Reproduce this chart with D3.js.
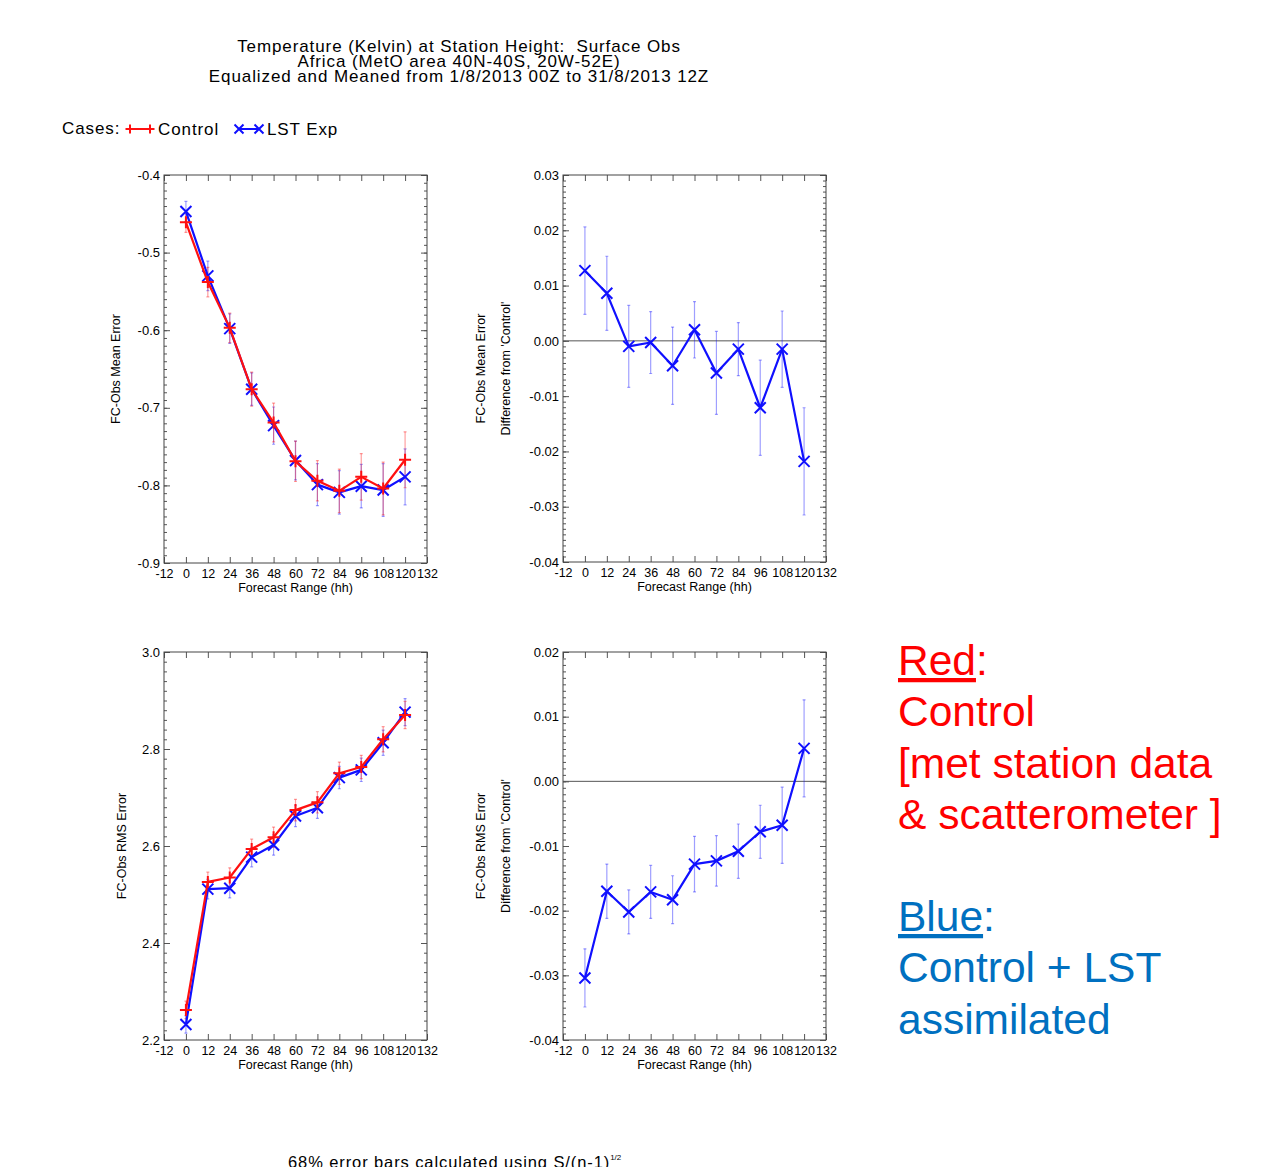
<!DOCTYPE html>
<html>
<head>
<meta charset="utf-8">
<script src="https://cdn.jsdelivr.net/npm/d3@7"></script>
<style>
  body { margin: 0; background: #fff; }
  svg { display: block; font-family: "Liberation Sans", Arial, Helvetica, sans-serif; }
  .frame { fill: none; stroke: #444; stroke-width: 1; }
  .tick line { stroke: #555; }
</style>
</head>
<body>
<svg id="chart" width="1275" height="1167"></svg>
<script>
// forecast lead times (hh)
var hours = [0, 12, 24, 36, 48, 60, 72, 84, 96, 108, 120];
var xTicks = [-12, 0, 12, 24, 36, 48, 60, 72, 84, 96, 108, 120, 132];

// mean error
var meanCtl = [-0.461, -0.538, -0.597, -0.676, -0.719, -0.769, -0.794, -0.807, -0.789, -0.804, -0.767];
var meanLst = [-0.447, -0.530, -0.598, -0.676, -0.723, -0.768, -0.799, -0.809, -0.801, -0.806, -0.789];
var meanCtlErr = [0.013, 0.019, 0.019, 0.022, 0.025, 0.026, 0.026, 0.028, 0.030, 0.034, 0.036];
var meanLstErr = [0.013, 0.019, 0.019, 0.021, 0.024, 0.025, 0.027, 0.028, 0.028, 0.034, 0.036];

// rms error
var rmsCtl = [2.262, 2.526, 2.535, 2.594, 2.618, 2.674, 2.690, 2.750, 2.763, 2.820, 2.870];
var rmsLst = [2.232, 2.511, 2.513, 2.577, 2.602, 2.662, 2.679, 2.741, 2.757, 2.813, 2.876];
var rmsCtlErr = [0.018, 0.020, 0.020, 0.020, 0.021, 0.022, 0.022, 0.023, 0.024, 0.026, 0.028];
var rmsLstErr = [0.018, 0.020, 0.020, 0.020, 0.021, 0.022, 0.022, 0.023, 0.024, 0.026, 0.028];

// LST Exp minus Control
var meanDiff = [0.0127, 0.0086, -0.0010, -0.0003, -0.0045, 0.0020, -0.0058, -0.0015, -0.0121, -0.0015, -0.0218];
var meanDiffErr = [0.0079, 0.0067, 0.0074, 0.0056, 0.0070, 0.0051, 0.0075, 0.0048, 0.0086, 0.0069, 0.0097];
var rmsDiff = [-0.0304, -0.0170, -0.0202, -0.0171, -0.0183, -0.0128, -0.0123, -0.0108, -0.0078, -0.0068, 0.0051];
var rmsDiffErr = [0.0045, 0.0042, 0.0034, 0.0041, 0.0037, 0.0043, 0.0039, 0.0042, 0.0041, 0.0059, 0.0075];

// y tick labels per panel
var meanTicks = [-0.9, -0.8, -0.7, -0.6, -0.5, -0.4];
var meanDiffTicks = [-0.04, -0.03, -0.02, -0.01, 0.00, 0.01, 0.02, 0.03];
var rmsTicks = [2.2, 2.4, 2.6, 2.8, 3.0];
var rmsDiffTicks = [-0.04, -0.03, -0.02, -0.01, 0.00, 0.01, 0.02];

var RED = "#ff1010", BLUE = "#1010ff";

var svg = d3.select("#chart");
svg.append("rect").attr("width", 1275).attr("height", 1167).attr("fill", "#fff");

function plusPath(s) { return "M" + (-s) + ",0H" + s + "M0," + (-s) + "V" + s; }
function crossPath(s) { return "M" + (-s) + "," + (-s) + "L" + s + "," + s + "M" + (-s) + "," + s + "L" + s + "," + (-s); }

// plain hyphen instead of the unicode minus d3 uses
function fmt(spec) {
    var f = d3.format(spec);
    return function (d) { return f(d).replace("\u2212", "-"); };
}

function drawPanel(p) {
    var width = p.right - p.left;
    var height = p.bottom - p.top;
    var g = svg.append("g").attr("transform", "translate(" + p.left + "," + p.top + ")");

    var x = d3.scaleLinear().domain([-12, 132]).range([0, width]);
    var y = d3.scaleLinear().domain(p.yDomain).range([height, 0]);

    var minor = d3.range(p.yDomain[0], p.yDomain[1] + p.minorStep / 2, p.minorStep);

    // minor y ticks, both sides
    g.append("g").call(d3.axisLeft(y).tickValues(minor).tickSize(-3).tickFormat(""))
        .call(function (a) { a.select(".domain").remove(); });
    g.append("g").attr("transform", "translate(" + width + ",0)")
        .call(d3.axisRight(y).tickValues(minor).tickSize(-3).tickFormat(""))
        .call(function (a) { a.select(".domain").remove(); });

    // major y ticks
    g.append("g")
        .call(d3.axisLeft(y).tickValues(p.yTicks).tickSize(-6).tickPadding(4).tickFormat(fmt(p.yFormat)))
        .call(function (a) {
            a.select(".domain").remove();
            a.selectAll("text").attr("fill", "#000").style("font-size", "13px");
        });
    g.append("g").attr("transform", "translate(" + width + ",0)")
        .call(d3.axisRight(y).tickValues(p.yTicks).tickSize(-6).tickFormat(""))
        .call(function (a) { a.select(".domain").remove(); });

    // x ticks
    g.append("g").attr("transform", "translate(0," + height + ")")
        .call(d3.axisBottom(x).tickValues(xTicks).tickSize(-6).tickPadding(6).tickFormat(fmt("d")))
        .call(function (a) {
            a.select(".domain").remove();
            a.selectAll("text").attr("fill", "#000").style("font-size", "12.5px");
        });
    g.append("g")
        .call(d3.axisTop(x).tickValues(xTicks).tickSize(-6).tickFormat(""))
        .call(function (a) { a.select(".domain").remove(); });

    g.append("rect").attr("class", "frame").attr("width", width).attr("height", height);

    if (p.zeroLine) {
        g.append("line")
            .attr("x1", 0).attr("x2", width)
            .attr("y1", y(0)).attr("y2", y(0))
            .attr("stroke", "#555").attr("stroke-width", 1);
    }

    // titles
    g.append("text")
        .attr("x", width / 2).attr("y", height + 29)
        .attr("text-anchor", "middle").style("font-size", "12.5px")
        .text("Forecast Range (hh)");
    p.yTitles.forEach(function (t) {
        g.append("text")
            .attr("transform", "translate(" + (t.x - p.left) + "," + (height / 2) + ") rotate(-90)")
            .attr("text-anchor", "middle").attr("dominant-baseline", "middle")
            .style("font-size", "12.5px")
            .text(t.text);
    });

    // error bars first, then lines and markers
    p.series.forEach(function (s) {
        var pts = hours.map(function (h, i) { return { h: h, v: s.values[i], e: s.errs[i] }; });
        var bars = g.append("g").attr("stroke", s.color).attr("stroke-opacity", 0.4).attr("stroke-width", 1.2);
        bars.selectAll("line.bar").data(pts).enter().append("line")
            .attr("x1", function (d) { return x(d.h); })
            .attr("x2", function (d) { return x(d.h); })
            .attr("y1", function (d) { return y(d.v - d.e); })
            .attr("y2", function (d) { return y(d.v + d.e); });
        bars.selectAll("path.cap").data(pts).enter().append("path")
            .attr("d", function (d) {
                return "M" + (x(d.h) - 1.5) + "," + y(d.v - d.e) + "h3" +
                    "M" + (x(d.h) - 1.5) + "," + y(d.v + d.e) + "h3";
            });
    });
    p.series.forEach(function (s) {
        var pts = hours.map(function (h, i) { return { h: h, v: s.values[i] }; });
        var line = d3.line().x(function (d) { return x(d.h); }).y(function (d) { return y(d.v); });
        g.append("path").datum(pts)
            .attr("fill", "none").attr("stroke", s.color).attr("stroke-width", 2.2)
            .attr("stroke-linejoin", "round")
            .attr("d", line);
        g.selectAll(null).data(pts).enter().append("path")
            .attr("transform", function (d) { return "translate(" + x(d.h) + "," + y(d.v) + ")"; })
            .attr("d", s.marker === "plus" ? plusPath(6) : crossPath(5.5))
            .attr("stroke", s.color).attr("stroke-width", 2).attr("fill", "none");
    });
}

// header
var title = [
    "Temperature (Kelvin) at Station Height:  Surface Obs",
    "Africa (MetO area 40N-40S, 20W-52E)",
    "Equalized and Meaned from 1/8/2013 00Z to 31/8/2013 12Z"
];
svg.append("g").selectAll("text").data(title).enter().append("text")
    .attr("x", 459).attr("y", function (d, i) { return 52 + i * 15; })
    .attr("text-anchor", "middle").style("font-size", "17px").style("letter-spacing", "0.9px")
    .style("white-space", "pre").attr("xml:space", "preserve")
    .text(function (d) { return d; });

// legend
var lg = svg.append("g").style("font-size", "17px").style("letter-spacing", "0.9px");
lg.append("text").attr("x", 62).attr("y", 134).text("Cases:");
lg.append("line").attr("x1", 128).attr("x2", 152).attr("y1", 129).attr("y2", 129).attr("stroke", RED).attr("stroke-width", 2);
lg.append("path").attr("transform", "translate(130,129)").attr("d", plusPath(4.5)).attr("stroke", RED).attr("stroke-width", 2);
lg.append("path").attr("transform", "translate(150,129)").attr("d", plusPath(4.5)).attr("stroke", RED).attr("stroke-width", 2);
lg.append("text").attr("x", 158).attr("y", 135).text("Control");
lg.append("line").attr("x1", 238).attr("x2", 260).attr("y1", 129).attr("y2", 129).attr("stroke", BLUE).attr("stroke-width", 2);
lg.append("path").attr("transform", "translate(239,129)").attr("d", crossPath(4.5)).attr("stroke", BLUE).attr("stroke-width", 2);
lg.append("path").attr("transform", "translate(259,129)").attr("d", crossPath(4.5)).attr("stroke", BLUE).attr("stroke-width", 2);
lg.append("text").attr("x", 267).attr("y", 135).text("LST Exp");

drawPanel({
    left: 164, right: 427, top: 175, bottom: 563,
    yDomain: [-0.9, -0.4], yTicks: meanTicks, yFormat: ".1f", minorStep: 0.01,
    yTitles: [{ x: 117, text: "FC-Obs Mean Error" }],
    series: [
        { values: meanLst, errs: meanLstErr, color: BLUE, marker: "cross" },
        { values: meanCtl, errs: meanCtlErr, color: RED, marker: "plus" }
    ]
});
drawPanel({
    left: 563, right: 826, top: 175, bottom: 562,
    yDomain: [-0.04, 0.03], yTicks: meanDiffTicks, yFormat: ".2f", minorStep: 0.001, zeroLine: true,
    yTitles: [{ x: 482, text: "FC-Obs Mean Error" }, { x: 507, text: "Difference from 'Control'" }],
    series: [{ values: meanDiff, errs: meanDiffErr, color: BLUE, marker: "cross" }]
});
drawPanel({
    left: 164, right: 427, top: 652, bottom: 1040,
    yDomain: [2.2, 3.0], yTicks: rmsTicks, yFormat: ".1f", minorStep: 0.02,
    yTitles: [{ x: 123, text: "FC-Obs RMS Error" }],
    series: [
        { values: rmsLst, errs: rmsLstErr, color: BLUE, marker: "cross" },
        { values: rmsCtl, errs: rmsCtlErr, color: RED, marker: "plus" }
    ]
});
drawPanel({
    left: 563, right: 826, top: 652, bottom: 1040,
    yDomain: [-0.04, 0.02], yTicks: rmsDiffTicks, yFormat: ".2f", minorStep: 0.001, zeroLine: true,
    yTitles: [{ x: 482, text: "FC-Obs RMS Error" }, { x: 507, text: "Difference from 'Control'" }],
    series: [{ values: rmsDiff, errs: rmsDiffErr, color: BLUE, marker: "cross" }]
});

// footnote (cut by the bottom edge, as in the original)
var fn = svg.append("text").attr("x", 288).attr("y", 1168)
    .style("font-size", "16.5px").style("letter-spacing", "0.9px");
fn.append("tspan").text("68% error bars calculated using S/(n-1)");
fn.append("tspan").attr("dy", -8).style("font-size", "8px").style("letter-spacing", "0").text("1/2");

// annotation on the right
var notes = svg.append("g").style("font-size", "42.5px");
function note(yy, parts) {
    var t = notes.append("text").attr("x", 898).attr("y", yy);
    parts.forEach(function (p) {
        t.append("tspan").attr("fill", p.c).attr("text-decoration", p.u ? "underline" : null).text(p.t);
    });
}
note(675, [{ t: "Red", c: "#ff0000", u: true }, { t: ":", c: "#ff0000" }]);
note(726, [{ t: "Control", c: "#ff0000" }]);
note(778, [{ t: "[met station data", c: "#ff0000" }]);
note(829, [{ t: "& scatterometer ]", c: "#ff0000" }]);
note(931, [{ t: "Blue", c: "#0070c0", u: true }, { t: ":", c: "#0070c0" }]);
note(982, [{ t: "Control + LST", c: "#0070c0" }]);
note(1034, [{ t: "assimilated", c: "#0070c0" }]);
</script>
</body>
</html>
